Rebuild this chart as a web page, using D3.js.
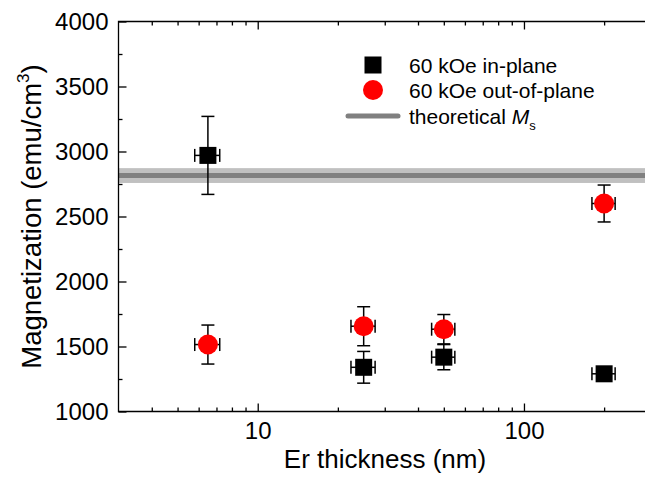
<!DOCTYPE html>
<html>
<head>
<meta charset="utf-8">
<script src="https://cdn.jsdelivr.net/npm/d3@7"></script>
<style>
  body { margin: 0; background: #fff; }
  svg { display: block; font-family: "Liberation Sans", Arial, sans-serif; }
</style>
</head>
<body>
<svg id="chart"></svg>
<script>
// data
var thickness = [6.5, 25, 50, 200]
var thicknessErr = [0.7, 2.6, 5, 20]
var inPlane = [2970, 1340, 1418, 1290]
var inPlaneErr = [300, 122, 97, 40]
var outPlane = [1515, 1656, 1633, 2600]
var outPlaneErr = [150, 150, 113, 142]
var msTheory = 2815
var msBand = 57
var xMajor = [10, 100]
var xMinor = [4, 5, 6, 7, 8, 9, 20, 30, 40, 50, 60, 70, 80, 90, 200]
var yMajor = [1000, 1500, 2000, 2500, 3000, 3500, 4000]
var yMinor = [1250, 1750, 2250, 2750, 3250, 3750]
var legendLabels = ["60 kOe in-plane", "60 kOe out-of-plane", "theoretical "]

var W = 645, H = 479
// plot box (right edge falls outside the picture)
var pL = 118.5, pR = 651, pT = 21.5, pB = 411.5

var svg = d3.select("#chart").attr("width", W).attr("height", H)

var x = d3.scaleLog().domain([3, 300]).range([pL, pR])
var y = d3.scaleLinear().domain([1000, 4000]).range([pB, pT])

// theoretical Ms band + line
svg.append("rect")
  .attr("x", pL).attr("width", pR - pL)
  .attr("y", y(msTheory + msBand))
  .attr("height", y(msTheory - msBand) - y(msTheory + msBand))
  .attr("fill", "#c0c0c0")
svg.append("line")
  .attr("x1", pL).attr("x2", pR)
  .attr("y1", y(msTheory)).attr("y2", y(msTheory))
  .attr("stroke", "#808080").attr("stroke-width", 5)

// axes
function styleAxis(g, size) {
  g.select(".domain").remove()
  g.selectAll("line").attr("stroke", "#000").attr("stroke-width", 1.3)
  g.selectAll("text").attr("font-size", size).attr("fill", "#000")
    .attr("font-family", "Liberation Sans, Arial, sans-serif")
}

svg.append("g").attr("transform", "translate(0," + pB + ")")
  .call(d3.axisBottom(x).tickValues(xMajor).tickFormat(d3.format("d")).tickSize(-8).tickPadding(10))
  .call(styleAxis, 24)
svg.append("g").attr("transform", "translate(0," + pB + ")")
  .call(d3.axisBottom(x).tickValues(xMinor).tickFormat("").tickSize(-4))
  .call(styleAxis, 24)
svg.append("g").attr("transform", "translate(0," + pT + ")")
  .call(d3.axisTop(x).tickValues(xMajor).tickFormat("").tickSize(-8))
  .call(styleAxis, 24)
svg.append("g").attr("transform", "translate(0," + pT + ")")
  .call(d3.axisTop(x).tickValues(xMinor).tickFormat("").tickSize(-4))
  .call(styleAxis, 24)

svg.append("g").attr("transform", "translate(" + pL + ",0)")
  .call(d3.axisLeft(y).tickValues(yMajor).tickFormat(d3.format("d")).tickSize(-8).tickPadding(10))
  .call(styleAxis, 24)
svg.append("g").attr("transform", "translate(" + pL + ",0)")
  .call(d3.axisLeft(y).tickValues(yMinor).tickFormat("").tickSize(-4))
  .call(styleAxis, 24)

// frame lines
svg.append("path")
  .attr("d", "M" + pR + "," + pT + "H" + pL + "V" + pB + "H" + pR)
  .attr("fill", "none").attr("stroke", "#000").attr("stroke-width", 1.3)

// axis titles
svg.append("text")
  .attr("x", 385).attr("y", 468)
  .attr("text-anchor", "middle").attr("font-size", 26)
  .text("Er thickness (nm)")

var yTitle = svg.append("text")
  .attr("transform", "translate(41," + ((pT + pB) / 2) + ") rotate(-90)")
  .attr("text-anchor", "middle").attr("font-size", 27.5)
yTitle.append("tspan").text("Magnetization (emu/cm")
yTitle.append("tspan").attr("font-size", 17).attr("dy", -12).text("3")
yTitle.append("tspan").attr("dy", 12).text(")")

// error bars
function errorBars(vals, errs) {
  var g = svg.append("g").attr("stroke", "#000").attr("stroke-width", 1.5).attr("fill", "none")
  thickness.forEach(function(t, i) {
    var cx = x(t), cy = y(vals[i])
    var y1 = y(vals[i] + errs[i]), y2 = y(vals[i] - errs[i])
    var x1 = x(t - thicknessErr[i]), x2 = x(t + thicknessErr[i])
    g.append("line").attr("x1", cx).attr("x2", cx).attr("y1", y1).attr("y2", y2)
    g.append("line").attr("x1", cx - 6.5).attr("x2", cx + 6.5).attr("y1", y1).attr("y2", y1)
    g.append("line").attr("x1", cx - 6.5).attr("x2", cx + 6.5).attr("y1", y2).attr("y2", y2)
    g.append("line").attr("x1", x1).attr("x2", x2).attr("y1", cy).attr("y2", cy)
    g.append("line").attr("x1", x1).attr("x2", x1).attr("y1", cy - 6.5).attr("y2", cy + 6.5)
    g.append("line").attr("x1", x2).attr("x2", x2).attr("y1", cy - 6.5).attr("y2", cy + 6.5)
  })
}
errorBars(inPlane, inPlaneErr)
errorBars(outPlane, outPlaneErr)

// markers
svg.append("g").selectAll("rect")
  .data(inPlane)
  .join("rect")
  .attr("x", function(d, i) { return x(thickness[i]) - 8.5 })
  .attr("y", function(d) { return y(d) - 8.5 })
  .attr("width", 17).attr("height", 17)
  .attr("fill", "#000")

svg.append("g").selectAll("circle")
  .data(outPlane)
  .join("circle")
  .attr("cx", function(d, i) { return x(thickness[i]) })
  .attr("cy", function(d) { return y(d) })
  .attr("r", 10)
  .attr("fill", "#ff0000")

// legend
var lg = svg.append("g")
lg.append("rect").attr("x", 364.5).attr("y", 56.5).attr("width", 17).attr("height", 17).attr("fill", "#000")
lg.append("circle").attr("cx", 373).attr("cy", 90).attr("r", 10).attr("fill", "#ff0000")
lg.append("line").attr("x1", 348).attr("x2", 398).attr("y1", 116).attr("y2", 116)
  .attr("stroke", "#808080").attr("stroke-width", 5).attr("stroke-linecap", "round")
lg.selectAll("text.lbl")
  .data(legendLabels)
  .join("text")
  .attr("class", "lbl")
  .attr("x", 409)
  .attr("y", function(d, i) { return [65, 90, 116][i] + 7.5 })
  .attr("font-size", 21)
  .text(function(d) { return d })
lg.selectAll("text.lbl").filter(function(d, i) { return i == 2 })
  .call(function(t) {
    t.append("tspan").attr("font-style", "italic").text("M")
    t.append("tspan").attr("font-size", 13).attr("dy", 6).text("s")
  })
</script>
</body>
</html>
